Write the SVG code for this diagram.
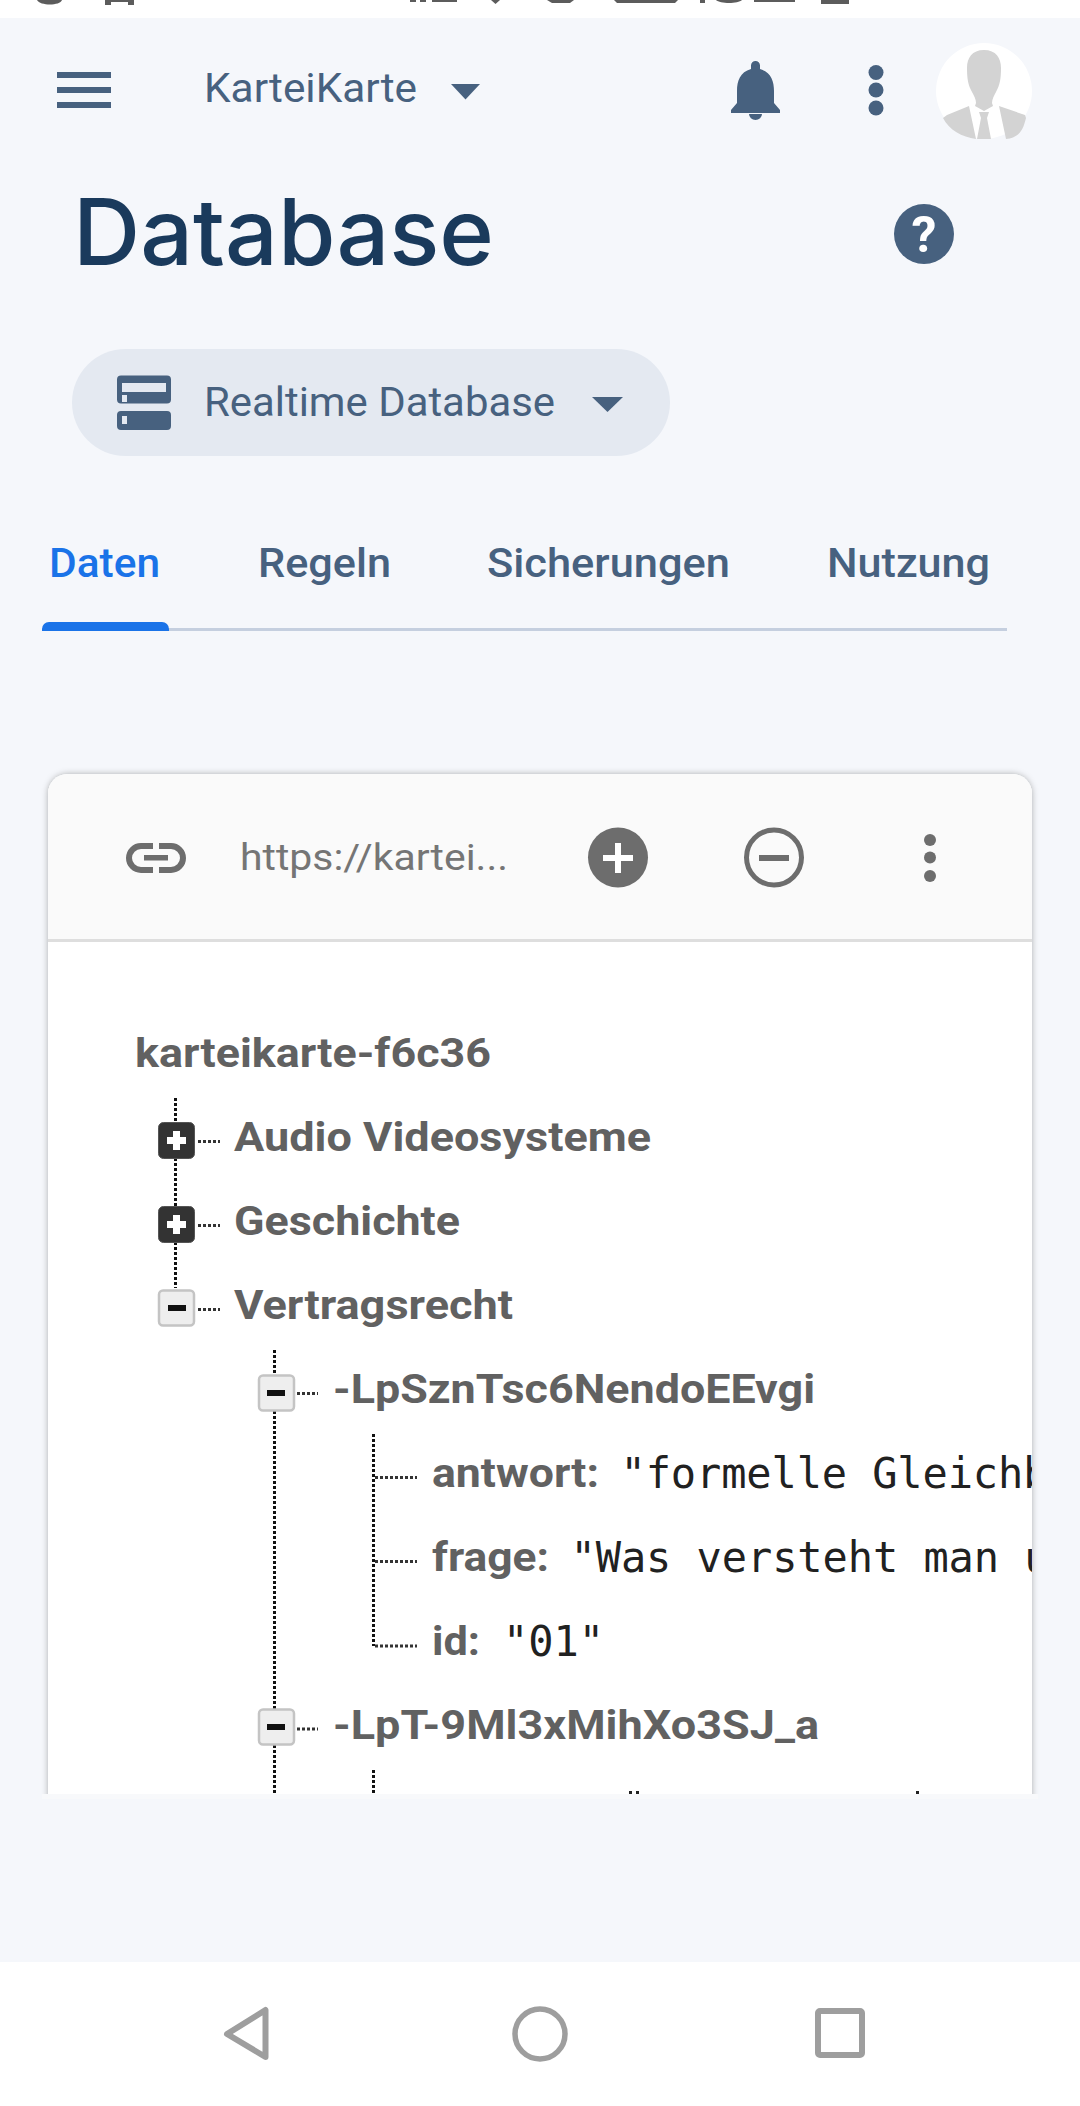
<svg xmlns="http://www.w3.org/2000/svg" width="1080" height="2106" viewBox="0 0 1080 2106">
<style>
.ui{font-family:Roboto,"Liberation Sans",sans-serif;fill:#47617f;font-size:40px}
.tab{font-weight:500;font-size:40px}
.k{font-family:Roboto,"Liberation Sans",sans-serif;font-weight:700;font-size:41px;fill:#616161}
.v{font-family:"DejaVu Sans Mono","Liberation Mono",monospace;font-size:42px;fill:#212121}
.ic{fill:#47617f}
.g{fill:#6d6d6d}
.nav{fill:none;stroke:#9e9e9e;stroke-linejoin:round}
.dv{fill:none;stroke:#111;stroke-width:3;stroke-dasharray:3 2}
.dh{fill:none;stroke:#333;stroke-width:3;stroke-dasharray:3 2}
.plus{fill:#333;stroke:#555;stroke-width:1}
.minus{fill:#eeeeee;stroke:#c4c4c4;stroke-width:2.5}
</style>
<defs>
<clipPath id="cardClip"><rect x="48" y="774" width="984" height="1020"/></clipPath>
<clipPath id="shadowClip"><rect x="30" y="750" width="1020" height="1044"/></clipPath>
<filter id="sh" x="-5%" y="-5%" width="110%" height="110%"><feDropShadow dx="0" dy="0" stdDeviation="3" flood-color="#000" flood-opacity="0.3"/></filter>
</defs>
<rect width="1080" height="2106" fill="#f5f7fb"/>
<g id="status-bar">
<rect width="1080" height="18" fill="#ffffff"/>
<g fill="#5c5c5c">
<path d="M37 0H62C60 6 40 6 37 0Z"/>
<path d="M105 0H134V5H128V2H111V5H105Z"/>
<rect x="410" y="0" width="6" height="2"/><rect x="420" y="0" width="6" height="2"/><rect x="432" y="0" width="25" height="2"/>
<path d="M491 0H500L495.500 4Z"/>
<path d="M547 0H574L570 3H552Z"/>
<path d="M614 0H678L675 3H617Z"/>
<rect x="700" y="0" width="5" height="3"/><path d="M716 0H742C738 4 720 4 716 0Z"/>
<rect x="754" y="0" width="41" height="2"/>
<rect x="821" y="0" width="28" height="4"/>
</g>
</g>
<g id="top-bar">
<g class="ic"><rect x="57" y="72" width="54" height="6"/><rect x="57" y="87" width="54" height="6"/><rect x="57" y="102" width="54" height="6"/></g>
<text class="ui" x="204" y="102" textLength="213" lengthAdjust="spacingAndGlyphs">KarteiKarte</text>
<path class="ic" d="M451 84H480L465.500 99.500Z"/>
<path class="ic" d="M755.500 61a4.500 4.500 0 0 1 4.500 4.500v3.500c11 3 14 12 14 22v12l6 7v3H731v-3l6-7V91c0-10 3-19 14-22v-3.500a4.500 4.500 0 0 1 4.500-4.500ZM749 114h13a6.500 6 0 0 1-13 0Z"/>
<circle class="ic" cx="876" cy="72.500" r="7.500"/><circle class="ic" cx="876" cy="90" r="7.500"/><circle class="ic" cx="876" cy="108" r="7.500"/>
<g id="avatar">
<circle cx="984" cy="91" r="48" fill="#ffffff"/>
<path fill="#d3d3d3" d="M984 50c12 0 17 8 17 18 0 10-1 17-5 24-2 4-4 7-4 11l1 3-9 5-9-5 1-3c0-4-2-7-4-11-4-7-5-14-5-24 0-10 5-18 17-18Z"/>
<path fill="#d3d3d3" d="M969 106l7 33c-14-2-27-9-33-21l4-3ZM999 106l7 33h0c14-2 17-9 20-21l-1-3ZM979 112h10l-2 6 4 21h-14l4-21Z"/>
</g>
</g>
<g id="title">
<text x="73" y="265" font-family="Inter,Roboto,sans-serif" font-weight="500" font-size="92" fill="#1a3a5c" textLength="421" lengthAdjust="spacingAndGlyphs">Database</text>
<circle class="ic" cx="924" cy="234" r="30"/>
<text x="924" y="252" text-anchor="middle" font-family="Roboto,sans-serif" font-weight="700" font-size="50" fill="#ffffff">?</text>
</g>
<g id="db-selector">
<rect x="72" y="349" width="598" height="107" rx="53.500" fill="#e4e9f1"/>
<path class="ic" fill-rule="evenodd" d="M121 375.500h46a4 4 0 0 1 4 4v20a4 4 0 0 1-4 4h-46a4 4 0 0 1-4-4v-20a4 4 0 0 1 4-4ZM122 383v9h44v-9ZM122 395v7h5v-7ZM121 411h46a4 4 0 0 1 4 4v11a4 4 0 0 1-4 4h-46a4 4 0 0 1-4-4v-11a4 4 0 0 1 4-4ZM122 416v8h5v-8Z"/>
<text class="ui" x="204" y="416" textLength="351" lengthAdjust="spacingAndGlyphs">Realtime Database</text>
<path class="ic" d="M592 397H623L607.500 412Z"/>
</g>
<g id="tabs">
<text class="ui tab" x="49" y="577" textLength="111" lengthAdjust="spacingAndGlyphs" style="fill:#1a73e8">Daten</text>
<text class="ui tab" x="258" y="577" textLength="133" lengthAdjust="spacingAndGlyphs">Regeln</text>
<text class="ui tab" x="487" y="577" textLength="243" lengthAdjust="spacingAndGlyphs">Sicherungen</text>
<text class="ui tab" x="827" y="577" textLength="163" lengthAdjust="spacingAndGlyphs">Nutzung</text>
<rect x="42" y="628" width="965" height="3" fill="#c5cfdf"/>
<path d="M42 631v-2a7 7 0 0 1 7-7h113a7 7 0 0 1 7 7v2Z" fill="#1a73e8"/>
</g>
<rect x="42" y="1794" width="996" height="5" fill="#f8f9fb"/>
<g id="card">
<g clip-path="url(#shadowClip)"><path d="M68 774H1012a20 20 0 0 1 20 20V1810H48V794a20 20 0 0 1 20-20Z" fill="#ffffff" filter="url(#sh)"/></g>
<path d="M68 774H1012a20 20 0 0 1 20 20V940H48V794a20 20 0 0 1 20-20Z" fill="#fafafa"/>
<rect x="48" y="939" width="984" height="3" fill="#dedede"/>
</g>
<g id="card-toolbar">
<path fill="none" stroke="#6d6d6d" stroke-width="6" d="M153 846h-12a12 12 0 0 0 0 24h12M159 846h12a12 12 0 0 1 0 24h-12"/>
<rect x="144" y="855" width="24" height="5.500" fill="#6d6d6d"/>
<text x="240" y="870" font-family="Roboto,sans-serif" font-size="37" fill="#757575" textLength="268" lengthAdjust="spacingAndGlyphs">https://kartei...</text>
<circle class="g" cx="618" cy="857.500" r="30"/>
<path fill="#fff" d="M615 843h6v12h12v6h-12v12h-6v-12h-12v-6h12Z"/>
<circle cx="774" cy="857.500" r="27.500" fill="none" stroke="#6d6d6d" stroke-width="5"/>
<rect x="759" y="855" width="30" height="6" fill="#6d6d6d"/>
<circle class="g" cx="930" cy="840" r="6"/><circle class="g" cx="930" cy="857.500" r="6"/><circle class="g" cx="930" cy="876" r="6"/>
</g>
<g id="connectors" clip-path="url(#cardClip)">
<path class="dv" d="M175.500 1098V1122M175.500 1158V1206M175.500 1242V1288"/>
<path class="dh" d="M198 1141.500H220M198 1225.500H220M198 1309.500H220"/>
<path class="dv" d="M274.500 1350V1375M274.500 1411V1709M274.500 1745V1800"/>
<path class="dh" d="M297 1393.500H318M297 1729H318"/>
<path class="dv" d="M373.500 1434V1646M373.500 1770V1800"/>
<path class="dh" d="M375 1477.500H417M375 1561.500H417M375 1646H417"/>
</g>
<g id="tree" clip-path="url(#cardClip)">
<g id="node-root"><text class="k" x="135" y="1067" textLength="356" lengthAdjust="spacingAndGlyphs">karteikarte-f6c36</text></g>
<g id="node-audio">
<rect class="plus" x="158.500" y="1122.500" width="36" height="36" rx="5"/>
<path fill="#fff" d="M173 1131h7v6h6v7h-6v6h-7v-6h-6v-7h6Z"/>
<text class="k" x="234" y="1151" textLength="417" lengthAdjust="spacingAndGlyphs">Audio Videosysteme</text>
</g>
<g id="node-geschichte">
<rect class="plus" x="158.500" y="1206.500" width="36" height="36" rx="5"/>
<path fill="#fff" d="M173 1215h7v6h6v7h-6v6h-7v-6h-6v-7h6Z"/>
<text class="k" x="234" y="1235" textLength="226" lengthAdjust="spacingAndGlyphs">Geschichte</text>
</g>
<g id="node-vertragsrecht">
<rect class="minus" x="159" y="1290.500" width="35" height="35" rx="4"/>
<rect x="168" y="1305" width="18" height="6" fill="#111"/>
<text class="k" x="234" y="1319" textLength="279" lengthAdjust="spacingAndGlyphs">Vertragsrecht</text>
</g>
<g id="node-entry1">
<rect class="minus" x="259" y="1375.500" width="35" height="35" rx="4"/>
<rect x="267" y="1390" width="18" height="6" fill="#111"/>
<text class="k" x="333" y="1403" textLength="482" lengthAdjust="spacingAndGlyphs">-LpSznTsc6NendoEEvgi</text>
</g>
<g id="node-antwort">
<text class="k" x="432" y="1487" textLength="167" lengthAdjust="spacingAndGlyphs">antwort:</text>
<text class="v" x="620.500" y="1488" textLength="428" lengthAdjust="spacing">"formelle Gleichb</text>
</g>
<g id="node-frage">
<text class="k" x="432" y="1571" textLength="117" lengthAdjust="spacingAndGlyphs">frage:</text>
<text class="v" x="570.500" y="1572" textLength="479" lengthAdjust="spacing">"Was versteht man u</text>
</g>
<g id="node-id">
<text class="k" x="432" y="1655" textLength="48" lengthAdjust="spacingAndGlyphs">id:</text>
<text class="v" x="503" y="1656" textLength="101" lengthAdjust="spacing">"01"</text>
</g>
<g id="node-entry2">
<rect class="minus" x="259" y="1709.500" width="35" height="35" rx="4"/>
<rect x="267" y="1724" width="18" height="6" fill="#111"/>
<text class="k" x="333" y="1739" textLength="486" lengthAdjust="spacingAndGlyphs">-LpT-9Ml3xMihXo3SJ_a</text>
</g>
<g id="cut-text" fill="#222">
<rect x="629" y="1791" width="3" height="3"/><rect x="636" y="1791" width="3" height="3"/>
<rect x="916" y="1791" width="3" height="3"/>
</g>
</g>
<g id="nav-bar">
<rect y="1962" width="1080" height="144" fill="#ffffff"/>
<path class="nav" stroke-width="6" d="M265.500 2010V2057L227 2034Z"/>
<circle class="nav" cx="540" cy="2034" r="25" stroke-width="5.500"/>
<rect class="nav" x="818" y="2011" width="44" height="44" rx="2" stroke-width="6"/>
</g>
</svg>
